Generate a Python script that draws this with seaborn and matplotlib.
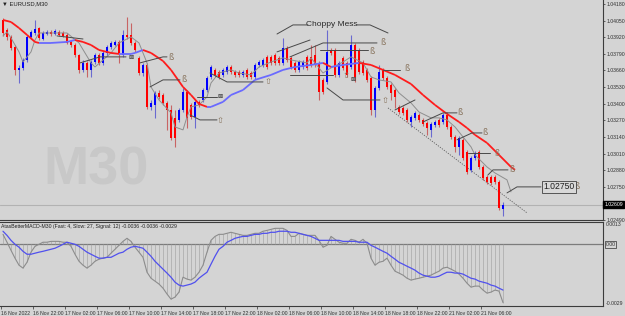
import numpy as np
import pandas as pd
import matplotlib
matplotlib.use('Agg')
import matplotlib.pyplot as plt
import matplotlib.transforms as mtransforms
from matplotlib.collections import LineCollection
import seaborn as sns

# EURUSD M30 candles, 16 Nov 18:00 -> 21 Nov 08:30
opens = [1.04055, 1.03977, 1.03922, 1.03844, 1.03664, 1.03680, 1.03742, 1.03922, 1.03953, 1.03992,
         1.03906, 1.03945, 1.03961, 1.03945, 1.03961, 1.03953, 1.03938, 1.03883, 1.03859, 1.03781,
         1.03664, 1.03719, 1.03664, 1.03726, 1.03781, 1.03719, 1.03797, 1.03844, 1.03859, 1.03883,
         1.03781, 1.03938, 1.03938, 1.03875, 1.03758, 1.03640, 1.03703, 1.03375, 1.03390, 1.03484,
         1.03468, 1.03406, 1.03351, 1.03289, 1.03273, 1.03351, 1.03492, 1.03390, 1.03296, 1.03414,
         1.03429, 1.03507, 1.03609, 1.03664, 1.03648, 1.03625, 1.03648, 1.03687, 1.03648, 1.03648,
         1.03625, 1.03664, 1.03640, 1.03609, 1.03703, 1.03703, 1.03766, 1.03766, 1.03781, 1.03758,
         1.03719, 1.03836, 1.03758, 1.03719, 1.03664, 1.03687, 1.03766, 1.03766, 1.03781, 1.03719,
         1.03586, 1.03570, 1.03820, 1.03820, 1.03625, 1.03758, 1.03719, 1.03687, 1.03859, 1.03820,
         1.03726, 1.03664, 1.03601, 1.03351, 1.03523, 1.03664, 1.03601, 1.03547, 1.03507, 1.03375,
         1.03367, 1.03351, 1.03257, 1.03289, 1.03312, 1.03273, 1.03249, 1.03195, 1.03234, 1.03273,
         1.03257, 1.03312, 1.03218, 1.03140, 1.03062, 1.03117, 1.03023, 1.02882, 1.02976, 1.03023,
         1.02905, 1.02827, 1.02827, 1.02827, 1.02788, 1.02577]
highs = [1.04071, 1.03992, 1.03938, 1.03859, 1.03703, 1.03758, 1.03938, 1.03977, 1.04055, 1.04000,
         1.03969, 1.03977, 1.03977, 1.03985, 1.03977, 1.03969, 1.03953, 1.03898, 1.03875, 1.03789,
         1.03742, 1.03734, 1.03742, 1.03797, 1.03797, 1.03812, 1.03859, 1.03891, 1.03898, 1.03898,
         1.03977, 1.04078, 1.04031, 1.03891, 1.03773, 1.03719, 1.03719, 1.03429, 1.03500, 1.03507,
         1.03484, 1.03421, 1.03390, 1.03351, 1.03367, 1.03523, 1.03507, 1.03406, 1.03429, 1.03429,
         1.03523, 1.03617, 1.03703, 1.03680, 1.03664, 1.03680, 1.03703, 1.03703, 1.03664, 1.03664,
         1.03664, 1.03680, 1.03656, 1.03719, 1.03742, 1.03758, 1.03781, 1.03781, 1.03797, 1.03773,
         1.03914, 1.03852, 1.03773, 1.03734, 1.03742, 1.03742, 1.03781, 1.03859, 1.03859, 1.03734,
         1.03601, 1.03977, 1.03836, 1.03836, 1.03734, 1.03773, 1.03734, 1.03938, 1.03875, 1.03836,
         1.03742, 1.03680, 1.03617, 1.03539, 1.03703, 1.03680, 1.03617, 1.03562, 1.03523, 1.03390,
         1.03382, 1.03367, 1.03312, 1.03343, 1.03328, 1.03289, 1.03265, 1.03257, 1.03273, 1.03289,
         1.03328, 1.03335, 1.03234, 1.03156, 1.03148, 1.03132, 1.03038, 1.02992, 1.03030, 1.03038,
         1.02921, 1.02843, 1.02843, 1.02843, 1.02804, 1.02632]
lows = [1.03930, 1.03898, 1.03820, 1.03625, 1.03562, 1.03664, 1.03726, 1.03906, 1.03938, 1.03898,
        1.03898, 1.03938, 1.03930, 1.03938, 1.03930, 1.03922, 1.03867, 1.03844, 1.03766, 1.03640,
        1.03648, 1.03609, 1.03609, 1.03711, 1.03703, 1.03703, 1.03773, 1.03828, 1.03852, 1.03719,
        1.03766, 1.03906, 1.03859, 1.03805, 1.03625, 1.03617, 1.03359, 1.03351, 1.03289, 1.03437,
        1.03390, 1.03195, 1.03117, 1.03062, 1.03257, 1.03335, 1.03210, 1.03281, 1.03210, 1.03375,
        1.03414, 1.03492, 1.03594, 1.03609, 1.03594, 1.03609, 1.03633, 1.03633, 1.03609, 1.03609,
        1.03609, 1.03594, 1.03594, 1.03594, 1.03687, 1.03687, 1.03672, 1.03703, 1.03703, 1.03703,
        1.03703, 1.03726, 1.03672, 1.03648, 1.03648, 1.03672, 1.03664, 1.03687, 1.03687, 1.03429,
        1.03476, 1.03554, 1.03781, 1.03609, 1.03609, 1.03664, 1.03609, 1.03672, 1.03570, 1.03633,
        1.03625, 1.03570, 1.03312, 1.03296, 1.03507, 1.03586, 1.03515, 1.03429, 1.03367, 1.03320,
        1.03312, 1.03257, 1.03218, 1.03273, 1.03257, 1.03226, 1.03156, 1.03140, 1.03218, 1.03218,
        1.03242, 1.03203, 1.03124, 1.03023, 1.02999, 1.02960, 1.02851, 1.02866, 1.02960, 1.02890,
        1.02804, 1.02772, 1.02765, 1.02772, 1.02569, 1.02522]
closes = [1.03953, 1.03922, 1.03836, 1.03664, 1.03680, 1.03742, 1.03922, 1.03961, 1.03985, 1.03914,
          1.03953, 1.03961, 1.03945, 1.03969, 1.03938, 1.03930, 1.03875, 1.03859, 1.03781, 1.03664,
          1.03719, 1.03664, 1.03726, 1.03781, 1.03719, 1.03797, 1.03844, 1.03875, 1.03883, 1.03797,
          1.03938, 1.03922, 1.03875, 1.03820, 1.03640, 1.03703, 1.03375, 1.03406, 1.03484, 1.03453,
          1.03406, 1.03351, 1.03132, 1.03132, 1.03351, 1.03492, 1.03289, 1.03296, 1.03414, 1.03390,
          1.03507, 1.03601, 1.03687, 1.03625, 1.03609, 1.03664, 1.03687, 1.03648, 1.03625, 1.03625,
          1.03648, 1.03609, 1.03609, 1.03703, 1.03726, 1.03742, 1.03687, 1.03719, 1.03719, 1.03719,
          1.03836, 1.03742, 1.03687, 1.03664, 1.03726, 1.03726, 1.03680, 1.03703, 1.03703, 1.03492,
          1.03492, 1.03805, 1.03797, 1.03625, 1.03719, 1.03680, 1.03625, 1.03859, 1.03609, 1.03648,
          1.03640, 1.03586, 1.03351, 1.03523, 1.03648, 1.03601, 1.03531, 1.03484, 1.03453, 1.03335,
          1.03328, 1.03273, 1.03296, 1.03328, 1.03273, 1.03242, 1.03210, 1.03242, 1.03257, 1.03234,
          1.03312, 1.03218, 1.03140, 1.03062, 1.03132, 1.02976, 1.02866, 1.02976, 1.03015, 1.02905,
          1.02819, 1.02788, 1.02780, 1.02788, 1.02585, 1.02609]

# slow moving average (red falling / blue rising), read at these bars
ma_bars = [0, 2, 4, 6, 8, 9, 12, 16, 18, 20, 22, 24, 27, 29, 32, 33, 35, 37, 40, 42,
           45, 47, 49, 51, 52, 55, 57, 60, 63, 67, 70, 73, 77, 80, 82, 85, 89, 92, 95, 98,
           102, 105, 108, 111, 114, 116, 118, 121, 124, 127, 128]
ma_vals = [1.04055, 1.04039, 1.03992, 1.03938, 1.03883, 1.03875, 1.03875, 1.03883, 1.03898, 1.03883,
           1.03859, 1.03820, 1.03797, 1.03789, 1.03789, 1.03797, 1.03820, 1.03797, 1.03734, 1.03664,
           1.03531, 1.03468, 1.03398, 1.03375, 1.03375, 1.03414, 1.03468, 1.03507, 1.03586, 1.03625,
           1.03664, 1.03687, 1.03703, 1.03719, 1.03687, 1.03703, 1.03719, 1.03703, 1.03664, 1.03625,
           1.03554, 1.03468, 1.03390, 1.03320, 1.03257, 1.03210, 1.03156, 1.03093, 1.02999, 1.02905,
           1.02882]

# fast moving average (thin grey)
fast_bars = [0, 1, 2, 4, 5, 7, 8, 9, 16, 19, 22, 23, 27, 29, 32, 34, 36, 37, 39, 42,
             43, 45, 46, 47, 49, 51, 52, 54, 57, 59, 62, 64, 67, 70, 72, 76, 77, 80, 82, 85,
             87, 90, 92, 94, 97, 99, 102, 104, 107, 109, 111, 113, 115, 117, 118, 121, 123, 126, 127]
fast_vals = [1.03930, 1.03961, 1.03914, 1.03805, 1.03726, 1.03805, 1.03898, 1.03953, 1.03953, 1.03875,
             1.03719, 1.03687, 1.03797, 1.03875, 1.03922, 1.03875, 1.03719, 1.03531, 1.03429, 1.03328,
             1.03218, 1.03195, 1.03296, 1.03375, 1.03390, 1.03453, 1.03562, 1.03640, 1.03664, 1.03640,
             1.03625, 1.03687, 1.03726, 1.03758, 1.03742, 1.03719, 1.03758, 1.03640, 1.03680, 1.03726,
             1.03766, 1.03719, 1.03609, 1.03586, 1.03570, 1.03484, 1.03406, 1.03335, 1.03289, 1.03289,
             1.03273, 1.03218, 1.03140, 1.03062, 1.02999, 1.02905, 1.02858, 1.02804, 1.02710]

# MACD (fast 4, slow 27, signal 12), in units of 0.0001
macd_pts = [5.8, 1.2, -3.5, -8.1, -12.2, -13.9, -10.5, -4.6, -1.2, 0.0,
            1.2, 1.2, 1.7, 1.7, 1.7, 1.2, 1.2, -1.2, -5.8, -9.9,
            -12.2, -13.9, -12.2, -9.9, -8.7, -8.1, -7.6, -5.2, -2.9, -0.6,
            1.7, 3.5, 1.7, -1.7, -4.6, -7.6, -16.3, -19.8, -21.5, -23.2,
            -25.6, -29.0, -32.0, -30.8, -27.9, -19.2, -20.3, -20.9, -19.2, -16.3,
            -12.2, -4.6, 2.3, 4.6, 5.8, 5.8, 6.4, 7.0, 6.4, 5.8,
            5.2, 5.2, 5.8, 6.4, 6.4, 7.6, 8.1, 8.7, 9.3, 9.3,
            9.3, 8.1, 4.6, 4.6, 6.4, 5.8, 5.2, 5.2, 5.2, 2.3,
            -1.7, -0.6, 4.6, 2.9, 1.2, 0.6, 0.6, 2.9, 2.3, 1.2,
            2.9, 0.6, -8.1, -12.2, -10.5, -9.9, -8.1, -12.2, -15.7, -16.8,
            -18.0, -19.8, -20.9, -20.3, -19.8, -19.2, -18.6, -18.0, -16.8, -15.7,
            -13.9, -13.4, -14.5, -15.7, -17.4, -19.8, -22.7, -25.0, -24.4, -24.4,
            -26.7, -28.5, -27.9, -26.7, -27.3, -34.0]
signal_pts = [7.6, 5.2, 2.3, 0.0, -1.7, -4.1, -5.8, -5.8, -5.2, -4.6,
              -4.1, -3.5, -2.9, -2.3, -1.2, 0.0, 1.2, 0.6, 0.0, -1.2,
              -2.9, -4.6, -5.8, -7.0, -8.1, -8.1, -7.6, -7.6, -6.4, -5.2,
              -4.6, -2.9, -1.7, -1.2, -1.7, -2.3, -4.6, -7.0, -9.9, -12.2,
              -14.5, -16.8, -19.2, -22.1, -23.8, -24.4, -23.8, -23.2, -22.1, -19.8,
              -18.0, -16.3, -11.6, -7.0, -2.9, -1.2, 1.2, 2.3, 3.5, 4.1,
              4.6, 4.6, 5.2, 5.8, 5.8, 6.4, 6.4, 7.0, 7.0, 7.6,
              7.6, 7.6, 7.0, 7.0, 6.4, 5.8, 5.2, 4.6, 3.5, 2.3,
              2.3, 2.3, 2.3, 2.3, 2.3, 1.7, 1.7, 1.7, 1.7, 1.2,
              1.2, 1.2, -0.6, -1.7, -2.9, -4.1, -5.2, -7.0, -8.7, -10.5,
              -11.6, -12.8, -13.9, -15.1, -16.8, -18.0, -18.6, -19.2, -19.2, -18.6,
              -17.4, -16.3, -16.3, -16.8, -16.8, -17.4, -18.6, -19.8, -20.3, -21.5,
              -22.1, -22.7, -23.8, -24.4, -25.6, -26.7]

date_labels = ['16 Nov 2022', '16 Nov 22:00', '17 Nov 02:00', '17 Nov 06:00', '17 Nov 10:00',
               '17 Nov 14:00', '17 Nov 18:00', '17 Nov 22:00', '18 Nov 02:00', '18 Nov 06:00',
               '18 Nov 10:00', '18 Nov 14:00', '18 Nov 18:00', '18 Nov 22:00', '21 Nov 02:00',
               '21 Nov 06:00']
price_ticks = [1.04180, 1.04050, 1.03920, 1.03790, 1.03660, 1.03530, 1.03400, 1.03270,
               1.03140, 1.03010, 1.02880, 1.02750, 1.02490]

# hand drawn lines on the chart (bar, price)
drawn_lines = [
    [(13.5, 1.03930), (20, 1.03906)],
    [(19.25, 1.03719), (24.25, 1.03766), (30.75, 1.03766)],
    [(34.25, 1.03719), (40, 1.03766), (41, 1.03766)],
    [(36.75, 1.03531), (40, 1.03586), (44.25, 1.03586)],
    [(46.75, 1.03312), (49.25, 1.03273), (53.5, 1.03273)],
    [(48.5, 1.03453), (53.5, 1.03453)],
    [(51.75, 1.03640), (56, 1.03570), (65, 1.03570)],
    [(68.5, 1.03805), (76.75, 1.03898)],
    [(71.75, 1.03766), (80, 1.03875), (93.5, 1.03875)],
    [(79.25, 1.03820), (91.25, 1.03820)],
    [(71.75, 1.03625), (82.5, 1.03625)],
    [(81, 1.03523), (85, 1.03429), (94.25, 1.03429)],
    [(95, 1.03664), (99.25, 1.03664)],
    [(98, 1.03351), (103, 1.03429)],
    [(105, 1.03257), (110, 1.03328), (113.5, 1.03328)],
    [(113.5, 1.03117), (117.25, 1.03171), (119.75, 1.03171)],
    [(116.25, 1.03015), (121.75, 1.03015)],
    [(121.25, 1.02843), (122.5, 1.02882), (126.25, 1.02882)],
    [(126, 1.02702), (128.5, 1.02749), (134.5, 1.02749)],
    [(68.5, 1.03945), (72.5, 1.04016), (76.25, 1.04016)],
    [(88.5, 1.04016), (91.75, 1.04016), (96.25, 1.03953)],
]
trend_dotted = [(96.25, 1.03367), (131, 1.02546)]
marks = [('ß', 42, 1.03758), ('ß', 45.25, 1.03586), ('⇧', 54.25, 1.03265), ('⊠', 54.25, 1.03453),
         ('⇧', 66.25, 1.03570), ('⊠', 32, 1.03758), ('ß', 95, 1.03875), ('ß', 92.25, 1.03812),
         ('⇧', 85.75, 1.03617), ('⊠', 87.5, 1.03586), ('⇧', 95.5, 1.03421), ('ß', 101, 1.03672),
         ('ß', 114.25, 1.03328), ('ß', 120.5, 1.03171), ('ß', 123.5, 1.03007), ('ß', 127.25, 1.02882),
         ('ß', 143.5, 1.02749)]

sns.set_style('white')
plt.rcParams['font.family'] = ['Liberation Sans', 'DejaVu Sans']

BG = '#d4d4d4'
DARK = '#3c3c3c'
fig = plt.figure(figsize=(6.25, 3.16), dpi=100, facecolor=BG)
ax = fig.add_axes([0, 96 / 316, 603 / 625, 220 / 316], facecolor=BG)
ax2 = fig.add_axes([0, 10 / 316, 603 / 625, 84 / 316], facecolor=BG)

df = pd.DataFrame({'open': opens, 'high': highs, 'low': lows, 'close': closes})
df['bar'] = np.arange(len(df))
up = df['close'] >= df['open']
body = (df['close'] - df['open']).abs().clip(lower=0.00003)

ax.text(0.16, 0.225, 'M30', transform=ax.transAxes, fontsize=39, fontweight='bold',
        color='#c8c8c8', ha='center', va='center', zorder=0)

ax.axhline(closes[-1], color='#b2b2b2', lw=0.8, zorder=1)
ax.plot([p[0] for p in trend_dotted], [p[1] for p in trend_dotted], color='#606060',
        lw=0.6, ls=(0, (1.5, 1.5)), zorder=2)

ax.vlines(df['bar'][up], df['low'][up], df['high'][up], color='#6a6ad0', lw=0.8, zorder=3)
ax.vlines(df['bar'][~up], df['low'][~up], df['high'][~up], color='#c86464', lw=0.8, zorder=3)
ax.bar(df['bar'][up], body[up], bottom=df['open'][up], width=0.72, color='#0000ff', lw=0, zorder=4)
ax.bar(df['bar'][~up], body[~up], bottom=df['close'][~up], width=0.72, color='#ff0000', lw=0, zorder=4)

sns.lineplot(x=fast_bars, y=fast_vals, ax=ax, color='#8e8e8e', lw=0.7, sort=False,
             estimator=None, zorder=5)

pts = np.column_stack([ma_bars, ma_vals])
segs = np.stack([pts[:-1], pts[1:]], axis=1)
seg_cols = np.where(np.diff(ma_vals) >= 0, '#6a6aff', '#ff1c1c')
ax.add_collection(LineCollection(segs, colors=seg_cols, linewidths=1.3, zorder=6))

for line in drawn_lines:
    ax.plot([p[0] for p in line], [p[1] for p in line], color='#484848', lw=0.7, zorder=7)
for sym, b, p in marks:
    ax.text(b, p, sym, fontsize=6 if sym != '⊠' else 4.5, color='#8a7660' if sym != '⊠' else '#303030',
            family=['DejaVu Sans'], ha='center', va='center', zorder=8)
ax.text(82.3, 1.04016, 'Choppy Mess', fontsize=6, color='#2a2a2a', ha='center', va='center')
ax.text(135, 1.02749, '1.02750', fontsize=6.2, color='#202020', ha='left', va='center', zorder=9,
        bbox=dict(boxstyle='square,pad=0.15', fc='#d8d8d8', ec='#404040', lw=0.6))
ax.text(0.003, 0.992, '▼ EURUSD,M30', transform=ax.transAxes, fontsize=4.2, color='#202020',
        family=['Liberation Sans', 'DejaVu Sans'], ha='left', va='top')

ax.set_xlim(-0.75, 150)
ax.set_ylim(1.02491, 1.04211)
ax.yaxis.tick_right()
ax.set_yticks(price_ticks, [f'{v:.5f}' for v in price_ticks])
ax.tick_params(axis='y', labelsize=3.7, colors='#303030', length=1.5, width=0.5, pad=1.0, right=True)
ax.tick_params(axis='x', bottom=False, labelbottom=False)
blend = mtransforms.blended_transform_factory(ax.transAxes, ax.transData)
ax.text(1.002, closes[-1], f'{closes[-1]:.5f}', transform=blend, fontsize=3.7, color='white',
        ha='left', va='center', bbox=dict(boxstyle='square,pad=0.2', fc='black', ec='black'))

# MACD panel
bars = np.arange(len(macd_pts))
macd = np.array(macd_pts) * 1e-4
signal = np.array(signal_pts) * 1e-4
ax2.axhline(0, color='#7c7c7c', lw=0.9, zorder=1)
ax2.vlines(bars, 0, macd, color='#a4a4a4', lw=0.45, zorder=2)
sns.lineplot(x=bars, y=macd, ax=ax2, color='#8c8c8c', lw=0.8, zorder=3)
sns.lineplot(x=bars, y=signal, ax=ax2, color='#5050ee', lw=0.9, zorder=4)
ax2.text(0.002, 0.975, 'AtasBetterMACD-M30 (Fast: 4, Slow: 27, Signal: 12) -0.0036 -0.0036 -0.0029',
         transform=ax2.transAxes, fontsize=3.7, color='#202020', ha='left', va='top')
ax2.set_xlim(-0.75, 150)
ax2.set_ylim(-0.0036, 0.0013)
ax2.set_yticks([])
blend2 = mtransforms.blended_transform_factory(ax2.transAxes, ax2.transData)
ax2.text(1.004, 0.0013, '0.0013', transform=blend2, fontsize=3.7, color='#303030', ha='left', va='top')
ax2.text(1.004, -0.0036, '-0.0029', transform=blend2, fontsize=3.7, color='#303030', ha='left', va='bottom')
ax2.text(1.004, 0, '0.00', transform=blend2, fontsize=3.7, color='#303030', ha='left', va='center',
         bbox=dict(boxstyle='square,pad=0.15', fc=BG, ec='#303030', lw=0.5))
ax2.set_xticks([8 * i - 0.5 for i in range(len(date_labels))], date_labels)
ax2.tick_params(axis='x', labelsize=3.7, colors='#303030', length=2, width=0.5, pad=1.5, bottom=True)
for lab in ax2.get_xticklabels():
    lab.set_horizontalalignment('left')
ax2.set_xlabel('')
ax2.set_ylabel('')
ax.set_xlabel('')
ax.set_ylabel('')

for a in (ax, ax2):
    a.spines['left'].set_visible(False)
    for s in ('top', 'bottom', 'right'):
        a.spines[s].set_color(DARK)
        a.spines[s].set_linewidth(0.8)
ax.spines['top'].set_visible(False)

fig.savefig('out.png', dpi=100, facecolor=BG)
